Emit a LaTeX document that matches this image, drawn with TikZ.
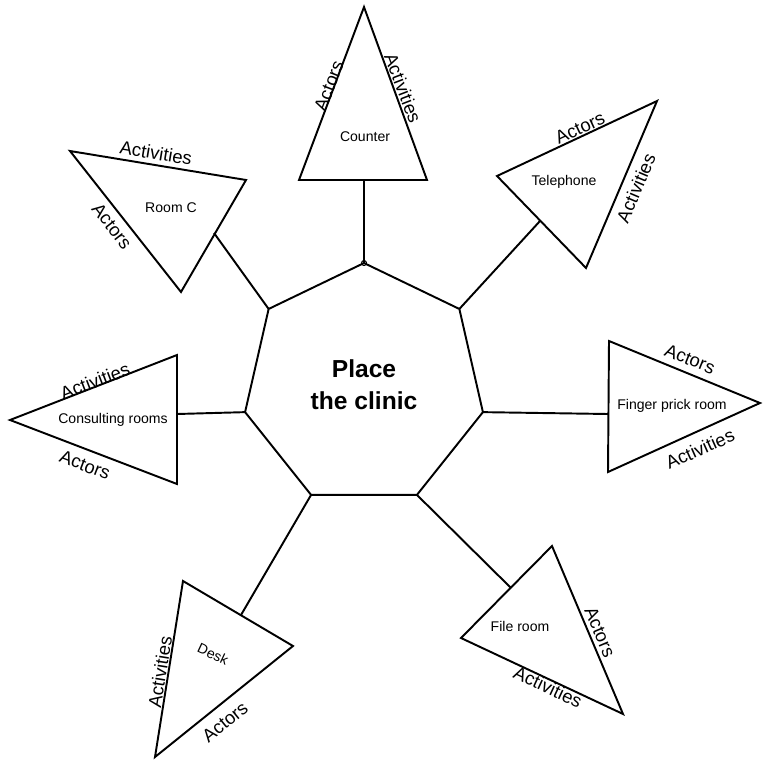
\documentclass[tikz,border=0pt]{standalone}
\usepackage{fontspec}
\setmainfont{Liberation Sans}
\usetikzlibrary{shapes.geometric}

\begin{document}
\begin{tikzpicture}[x=0.02cm, y=-0.02cm, line width=1.1pt,
    raum/.style={font=\fontsize{8}{9.6}\selectfont},
    seite/.style={font=\fontsize{10.5}{12}\selectfont, inner sep=0pt}]
  \useasboundingbox (0,0) rectangle (764,764);
  \node[draw, regular polygon, regular polygon sides=7, minimum size=4.88cm,
        outer sep=0pt, inner sep=0pt, align=center,
        font=\bfseries\fontsize{14}{18}\selectfont] (clinic) at (364,385) {Place\\the clinic}; % Mitte
  \draw[line width=0.6pt] (clinic.corner 1) circle (2.5);
  % Counter
  \draw (364,7) -- (299,180) -- (427,180) -- cycle;
  \coordinate (counterfuss) at (364,180);
  \node[raum] (counter) at (365,137) {Counter};
  \node[seite, rotate=69] (counteract) at (329,86) {Actors};
  \node[seite, rotate=-69] (counteractiv) at (403,88) {Activities};
  \draw (counterfuss) -- (clinic.corner 1);
  % Room C
  \draw (70,151) -- (246,180) -- (181,292) -- cycle;
  \coordinate (roomcfuss) at (214,233);
  \node[raum] (roomc) at (171,208) {Room C};
  \node[seite, rotate=-9.4] (roomcactiv) at (156,153) {Activities};
  \node[seite, rotate=-52] (roomcact) at (112,226) {Actors};
  \draw (roomcfuss) -- (clinic.corner 2);
  % Telephone
  \draw (497,176) -- (657,101) -- (586,268) -- cycle;
  \coordinate (telfuss) at (540,221);
  \node[raum] (tel) at (564,182) {Telephone};
  \node[seite, rotate=25] (telact) at (580,128) {Actors};
  \node[seite, rotate=67] (telactiv) at (636,188) {Activities};
  \draw (telfuss) -- (clinic.corner 7);
  % Consulting rooms
  \draw (10,420) -- (177,355) -- (177,484) -- cycle;
  \coordinate (consfuss) at (177,414);
  \node[raum] (cons) at (113,420) {Consulting rooms};
  \node[seite, rotate=21] (consactiv) at (95,381) {Activities};
  \node[seite, rotate=-21] (consact) at (85,465) {Actors};
  \draw (consfuss) -- (clinic.corner 3);
  % Finger prick room
  \draw (609,341) -- (760,403) -- (608,472) -- cycle;
  \coordinate (fingerfuss) at (608,414);
  \node[raum] (finger) at (672,406) {Finger prick room};
  \node[seite, rotate=-22] (fingeract) at (690,359) {Actors};
  \node[seite, rotate=24] (fingeractiv) at (700,449) {Activities};
  \draw (fingerfuss) -- (clinic.corner 6);
  % File room
  \draw (552,546) -- (623,714) -- (461,638) -- cycle;
  \coordinate (filefuss) at (511,588);
  \node[raum] (file) at (520,626) {File room};
  \node[seite, rotate=-67] (fileact) at (600,632) {Actors};
  \node[seite, rotate=-25] (fileactiv) at (548,687) {Activities};
  \draw (filefuss) -- (clinic.corner 5);
  % Desk
  \draw (183,581) -- (293,646) -- (155,757) -- cycle;
  \coordinate (deskfuss) at (241,615);
  \node[raum, rotate=-25] (desk) at (213,654) {Desk};
  \node[seite, rotate=81] (deskactiv) at (160,672) {Activities};
  \node[seite, rotate=39] (deskact) at (225,722) {Actors};
  \draw (deskfuss) -- (clinic.corner 4);
\end{tikzpicture}
\end{document}
